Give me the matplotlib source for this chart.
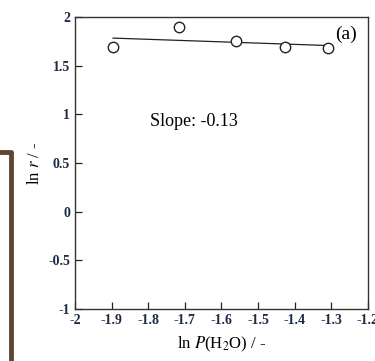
import numpy as np
import matplotlib
matplotlib.use("Agg")
import matplotlib.pyplot as plt
from matplotlib.lines import Line2D

plt.rcParams['font.family'] = ['Liberation Serif', 'DejaVu Serif']
plt.rcParams['mathtext.fontset'] = 'stix'

# ln P(H2O) vs ln r
lnP = np.array([-1.896, -1.716, -1.560, -1.427, -1.309])
lnr = np.array([1.69, 1.897, 1.753, 1.69, 1.68])

xticks = [-2, -1.9, -1.8, -1.7, -1.6, -1.5, -1.4, -1.3, -1.2]
yticks = [-1, -0.5, 0, 0.5, 1, 1.5, 2]

# reported slope; line passes through the centroid of the points
slope = -0.13
icept = lnr.mean() - slope * lnP.mean()
xfit = np.array([lnP.min(), lnP.max()])

fig = plt.figure(figsize=(3.75, 3.61), dpi=100)
ax = fig.add_axes([0.2, 0.144, 0.781, 0.809])

ax.plot(xfit, slope * xfit + icept, color='#222222', lw=0.9)
ax.plot(lnP, lnr, 'o', ms=7.5, mfc='white', mec='#222222', mew=1.0)

ax.set_xlim(-2, -1.2)
ax.set_ylim(-1, 2)
ax.set_xticks(xticks)
ax.set_yticks(yticks)
ax.set_xticklabels(['%g' % t for t in xticks])
ax.set_yticklabels(['%g' % t for t in yticks])
ax.tick_params(direction='in', length=5, width=0.9, labelsize=10,
               colors='#222222', top=False, right=False)
for lab in ax.get_xticklabels() + ax.get_yticklabels():
    lab.set_fontweight('bold')
    lab.set_color('#1c2a44')
for sp in ax.spines.values():
    sp.set_linewidth(1.0)
    sp.set_color('#333333')

ax.set_xlabel(r'ln $\it{P}$(H$_2$O) / -', fontsize=12, labelpad=6)
ax.set_ylabel(r'ln $\it{r}$ / -', fontsize=12, labelpad=4)

ax.text(-1.29, 1.82, '(a)', fontsize=14, ha='left', va='center')
ax.text(-1.795, 0.93, 'Slope: %.2f' % slope, fontsize=13, ha='left', va='center')

# border of the neighbouring panel
fig.add_artist(Line2D([0.0, 0.029, 0.029], [0.579, 0.579, 0.0],
                      transform=fig.transFigure, color='#5e4632', lw=3.5))

fig.savefig('out.png', dpi=100)
